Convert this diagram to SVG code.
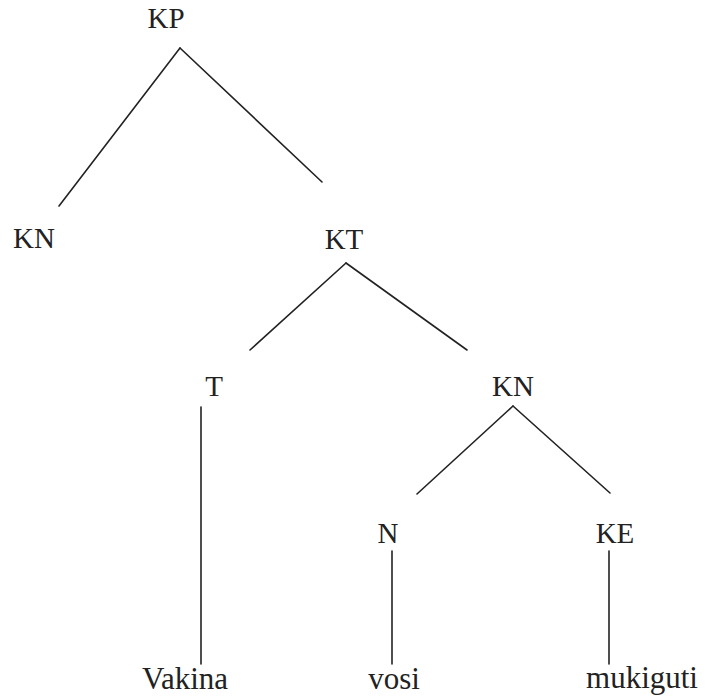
<svg xmlns="http://www.w3.org/2000/svg" width="706" height="698" viewBox="0 0 706 698">
<style>
text{font-family:"Liberation Serif","Times New Roman",serif;fill:#222;text-anchor:middle}
.lab{font-size:29px}
.leaf{font-size:31px}
.edge{stroke:#222;stroke-width:1.6;fill:none;stroke-linecap:round}
</style>
<rect width="706" height="698" fill="#fff"/>
<g id="connectors">
<line class="edge" x1="180" y1="48" x2="59" y2="206"/>
<line class="edge" x1="180" y1="48" x2="322" y2="182"/>
<line class="edge" x1="346" y1="263" x2="250" y2="350"/>
<line class="edge" x1="346" y1="263" x2="467" y2="350"/>
<line class="edge" x1="201" y1="407" x2="201" y2="664"/>
<line class="edge" x1="513" y1="406" x2="417" y2="494"/>
<line class="edge" x1="513" y1="406" x2="610" y2="493"/>
<line class="edge" x1="392" y1="551" x2="392" y2="664"/>
<line class="edge" x1="609" y1="551" x2="609" y2="664"/>
</g>
<g id="n-KP"><text class="lab" x="166" y="28">KP</text></g>
<g id="n-KN1"><text class="lab" x="34" y="248">KN</text></g>
<g id="n-KT"><text class="lab" x="344" y="249">KT</text></g>
<g id="n-T"><text class="lab" x="214" y="396">T</text></g>
<g id="n-KN2"><text class="lab" x="513" y="396">KN</text></g>
<g id="n-N"><text class="lab" x="388" y="543">N</text></g>
<g id="n-KE"><text class="lab" x="615" y="543">KE</text></g>
<g id="n-Vakina"><text class="leaf" x="185" y="689">Vakina</text></g>
<g id="n-vosi"><text class="leaf" x="394" y="689">vosi</text></g>
<g id="n-mukiguti"><text class="leaf" x="642" y="688">mukiguti</text></g>
</svg>
